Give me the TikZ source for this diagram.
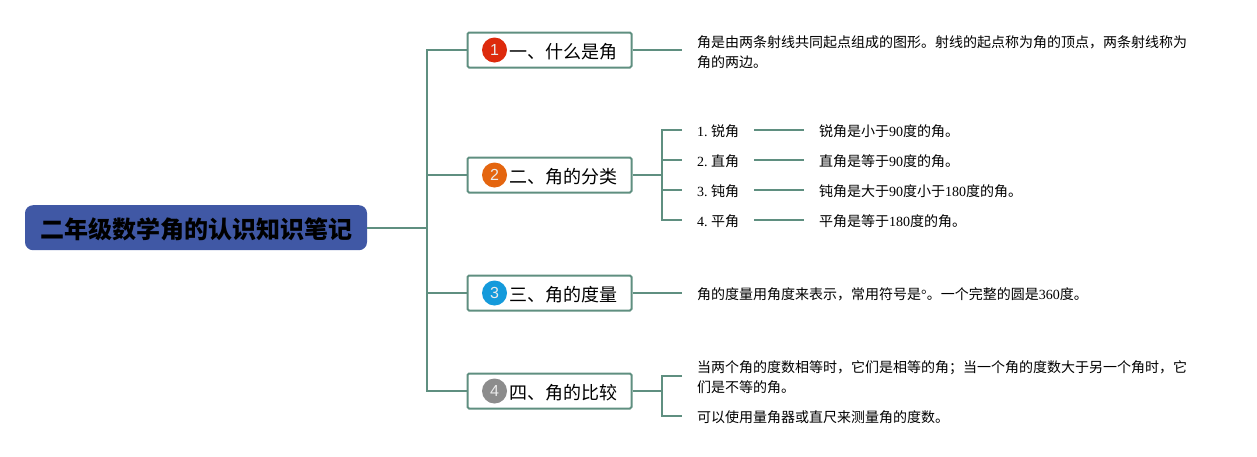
\documentclass[tikz,border=0pt]{standalone}
\usepackage{fontspec}
\setmainfont{Noto Sans CJK SC}
\newfontfamily\latn{Liberation Serif}
\newfontfamily\digitfont{Liberation Sans}
\newcommand{\ls}[1]{{\latn #1}}
\frenchspacing
\definecolor{linkc}{HTML}{5F8F80}
\definecolor{rootc}{HTML}{4058A5}
\definecolor{numa}{HTML}{DD2A0C}
\definecolor{numb}{HTML}{E4650F}
\definecolor{numc}{HTML}{149ADB}
\definecolor{numd}{HTML}{8C8C8C}
\tikzset{
  x=1pt,y=-1pt,
  rootbox/.style={fill=rootc,rounded corners=8pt,minimum width=342pt,minimum height=45pt,inner sep=0pt},
  roottext/.style={inner sep=0pt,font=\fontsize{24}{28}\selectfont\bfseries,text=black},
  branchbox/.style={draw=linkc,line width=2pt,fill=white,rounded corners=1.5pt,minimum width=164pt,minimum height=35pt,inner sep=0pt},
  branchtext/.style={anchor=west,inner sep=0pt,font=\fontsize{18}{22}\selectfont,text=black},
  badge/.style={circle,minimum size=25pt,inner sep=0pt,text=white!92!black,font=\fontsize{16}{16}\selectfont\digitfont},
  leaf/.style={anchor=west,inner xsep=15pt,inner ysep=0pt,align=left,font=\fontsize{14}{20}\selectfont,text=black},
  link/.style={draw=linkc,line width=2pt},
}
\begin{document}
\begin{tikzpicture}
\useasboundingbox (0,0) rectangle (1257,456);
% root
\node[rootbox] (root) at (196,227.7) {};
\node[roottext] (roott) at (196.5,229.7) {二年级数学角的认识知识笔记};
% trunk
\coordinate (trunk) at (427,228);
% branches
\node[branchbox] (b1) at (549.5,50) {};
\node[branchbox] (b2) at (549.5,175) {};
\node[branchbox] (b3) at (549.5,293) {};
\node[branchbox] (b4) at (549.5,391) {};
\node[badge,fill=numa] (n1) at (494.5,50) {1};
\node[badge,fill=numb] (n2) at (494.5,175) {2};
\node[badge,fill=numc] (n3) at (494.5,293) {3};
\node[badge,fill=numd] (n4) at (494.5,391) {4};
\node[branchtext] (t1) at (509,51.5) {一、什么是角};
\node[branchtext] (t2) at (509,176.5) {二、角的分类};
\node[branchtext] (t3) at (509,294.5) {三、角的度量};
\node[branchtext] (t4) at (509,392.5) {四、角的比较};
% leaves
\node[leaf] (l1) at (682,52) {角是由两条射线共同起点组成的图形。射线的起点称为角的顶点，两条射线称为\\角的两边。};
\node[leaf] (i1) at (682,131.5) {\ls{1. }锐角};
\node[leaf] (i2) at (682,161.5) {\ls{2. }直角};
\node[leaf] (i3) at (682,191.5) {\ls{3. }钝角};
\node[leaf] (i4) at (682,221.5) {\ls{4. }平角};
\node[leaf] (d1) at (804,131.5) {锐角是小于\ls{90}度的角。};
\node[leaf] (d2) at (804,161.5) {直角是等于\ls{90}度的角。};
\node[leaf] (d3) at (804,191.5) {钝角是大于\ls{90}度小于\ls{180}度的角。};
\node[leaf] (d4) at (804,221.5) {平角是等于\ls{180}度的角。};
\node[leaf] (l3) at (682,294.5) {角的度量用角度来表示，常用符号是\ls{°}。一个完整的圆是\ls{360}度。};
\node[leaf] (l41) at (682,377.5) {当两个角的度数相等时，它们是相等的角；当一个角的度数大于另一个角时，它\\们是不等的角。};
\node[leaf] (l42) at (682,417.5) {可以使用量角器或直尺来测量角的度数。};
% connectors
\coordinate (jb2) at (662,175);
\coordinate (jb4) at (662,391);
\coordinate (e1) at (682,130);
\coordinate (e2) at (682,160);
\coordinate (e3) at (682,190);
\coordinate (e4) at (682,220);
\coordinate (f1) at (682,376);
\coordinate (f2) at (682,416);
\path[link] (root.east |- trunk) -- (trunk);
\path[link] (b1.west) -| (trunk) |- (b4.west);
\path[link] (trunk |- b2) -- (b2.west);
\path[link] (trunk |- b3) -- (b3.west);
\path[link] (b1.east) -- (l1.west |- b1);
\path[link] (b2.east) -- (jb2);
\path[link] (b3.east) -- (l3.west |- b3);
\path[link] (b4.east) -- (jb4);
\path[link] (e1) -| (jb2) |- (e4);
\path[link] (jb2 |- e2) -- (e2);
\path[link] (jb2 |- e3) -- (e3);
\path[link] (f1) -| (jb4) |- (f2);
\path[link] (i1.east |- e1) -- (d1.west |- e1);
\path[link] (i2.east |- e2) -- (d2.west |- e2);
\path[link] (i3.east |- e3) -- (d3.west |- e3);
\path[link] (i4.east |- e4) -- (d4.west |- e4);
\end{tikzpicture}
\end{document}
